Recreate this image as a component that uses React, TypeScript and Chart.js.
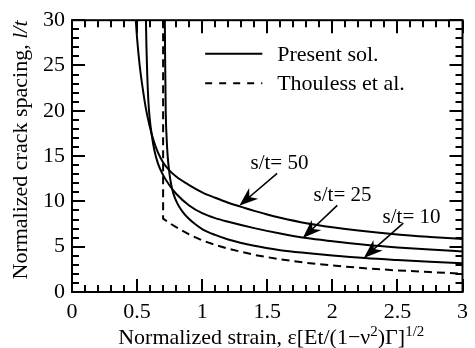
import React, { useEffect, useRef } from 'react';
import { Chart, registerables } from 'chart.js';
Chart.register(...registerables);

// ---- data ----
const xTicks = [0, 0.5, 1, 1.5, 2, 2.5, 3];
const yTicks = [0, 5, 10, 15, 20, 25, 30];

const st50X = [0.49, 0.5, 0.52, 0.543, 0.567, 0.595, 0.625, 0.66, 0.7, 0.75, 0.8, 0.9, 1.0, 1.1, 1.2, 1.3, 1.4, 1.5, 1.6, 1.8, 2.0, 2.2, 2.5, 2.75, 3.0];
const st50Y = [30, 28, 25, 22.5, 20.3, 18.4, 16.8, 15.4, 14.3, 13.4, 12.75, 11.8, 11.0, 10.4, 9.85, 9.4, 8.95, 8.55, 8.2, 7.6, 7.15, 6.78, 6.35, 6.08, 5.85];

const st25X = [0.568, 0.572, 0.578, 0.587, 0.598, 0.613, 0.632, 0.66, 0.7, 0.75, 0.8, 0.9, 1.0, 1.1, 1.2, 1.4, 1.6, 1.8, 2.0, 2.25, 2.5, 2.75, 3.0];
const st25Y = [30, 27, 24, 21, 19, 17.3, 15.7, 14.2, 12.9, 11.75, 10.85, 9.55, 8.7, 8.15, 7.75, 7.05, 6.45, 5.95, 5.6, 5.22, 4.92, 4.68, 4.48];

const st10X = [0.713, 0.716, 0.72, 0.727, 0.735, 0.745, 0.76, 0.78, 0.81, 0.85, 0.9, 0.95, 1.0, 1.1, 1.2, 1.4, 1.6, 1.8, 2.0, 2.25, 2.5, 2.75, 3.0];
const st10Y = [30, 25, 20, 17, 15, 13.5, 12.0, 10.8, 9.75, 8.85, 8.05, 7.45, 6.95, 6.3, 5.8, 5.1, 4.62, 4.3, 4.03, 3.74, 3.52, 3.33, 3.18];

const thoulessX = [0.7, 0.7, 0.75, 0.8, 0.9, 1.0, 1.1, 1.2, 1.4, 1.6, 1.8, 2.0, 2.25, 2.5, 2.75, 3.0];
const thoulessY = [30, 8.1, 7.6, 7.15, 6.35, 5.7, 5.2, 4.78, 4.1, 3.6, 3.22, 2.92, 2.62, 2.38, 2.2, 2.03];

const legendLabels = ['Present sol.', 'Thouless et al.'];
const seriesLabels = ['s/t= 50', 's/t= 25', 's/t= 10'];

// ---- styling / placement (data coordinates) ----
const SERIF = '"Liberation Serif", "Times New Roman", serif';
const annotations = [
  { text: seriesLabels[0], tx: 1.371, ty: 13.59, tail: [1.576, 13.1], tip: [1.285, 9.53] },
  { text: seriesLabels[1], tx: 1.856, ty: 10.0, tail: [2.038, 9.57], tip: [1.773, 5.95] },
  { text: seriesLabels[2], tx: 2.386, ty: 7.61, tail: [2.545, 7.61], tip: [2.242, 3.76] },
];

const toPts = (xs: number[], ys: number[]) => xs.map((x, i) => ({ x, y: ys[i] }));

function drawArrow(ctx: CanvasRenderingContext2D, x1: number, y1: number, x2: number, y2: number) {
  const ang = Math.atan2(y2 - y1, x2 - x1);
  const L = 19, W = 7;
  const dx = Math.cos(ang), dy = Math.sin(ang);
  const px = -dy, py = dx;
  ctx.beginPath();
  ctx.moveTo(x1, y1);
  ctx.lineTo(x2 - dx * L * 0.6, y2 - dy * L * 0.6);
  ctx.lineWidth = 1.6;
  ctx.stroke();
  ctx.beginPath();
  ctx.moveTo(x2, y2);
  ctx.lineTo(x2 - dx * L + px * W, y2 - dy * L + py * W);
  ctx.lineTo(x2 - dx * L * 0.7, y2 - dy * L * 0.7);
  ctx.lineTo(x2 - dx * L - px * W, y2 - dy * L - py * W);
  ctx.closePath();
  ctx.fill();
}

const framePlugin = {
  id: 'frame',
  afterDraw(chart: any) {
    const ctx: CanvasRenderingContext2D = chart.ctx;
    const { left, right, top, bottom } = chart.chartArea;
    const xs = chart.scales.x, ys = chart.scales.y;
    ctx.save();
    ctx.strokeStyle = '#000';
    ctx.fillStyle = '#000';
    // frame
    ctx.lineWidth = 2;
    ctx.strokeRect(left, top, right - left, bottom - top);
    // ticks
    ctx.lineWidth = 2;
    ctx.beginPath();
    for (let i = 0; i <= 30; i++) {
      const v = i / 10;
      const p = Math.round(xs.getPixelForValue(v));
      const len = i % 5 === 0 ? 13 : 7;
      ctx.moveTo(p, bottom); ctx.lineTo(p, bottom - len);
      ctx.moveTo(p, top); ctx.lineTo(p, top + len);
    }
    for (let i = 0; i <= 30; i++) {
      const p = Math.round(ys.getPixelForValue(i));
      const len = i % 5 === 0 ? 13 : 7;
      ctx.moveTo(left, p); ctx.lineTo(left + len, p);
      ctx.moveTo(right, p); ctx.lineTo(right - len, p);
    }
    ctx.stroke();

    // legend
    const lx1 = xs.getPixelForValue(1.023), lx2 = xs.getPixelForValue(1.462);
    const ly1 = ys.getPixelForValue(26.3), ly2 = ys.getPixelForValue(23.04);
    const tx = xs.getPixelForValue(1.576);
    ctx.lineWidth = 2;
    ctx.beginPath(); ctx.moveTo(lx1, ly1); ctx.lineTo(lx2, ly1); ctx.stroke();
    ctx.setLineDash([7, 7]);
    ctx.beginPath(); ctx.moveTo(lx1, ly2); ctx.lineTo(lx2, ly2); ctx.stroke();
    ctx.setLineDash([]);
    ctx.font = '22px ' + SERIF;
    ctx.textAlign = 'left';
    ctx.textBaseline = 'alphabetic';
    ctx.fillText(legendLabels[0], tx, ly1 + 7);
    ctx.fillText(legendLabels[1], tx, ly2 + 7);

    // annotations
    ctx.font = '21px ' + SERIF;
    for (const a of annotations) {
      ctx.fillText(a.text, xs.getPixelForValue(a.tx), ys.getPixelForValue(a.ty));
      drawArrow(ctx,
        xs.getPixelForValue(a.tail[0]), ys.getPixelForValue(a.tail[1]),
        xs.getPixelForValue(a.tip[0]), ys.getPixelForValue(a.tip[1]));
    }

    // x title with superscripts
    const parts = [
      { t: 'Normalized strain, \u03b5[Et/(1\u2212\u03bd', sup: false },
      { t: '2', sup: true },
      { t: ')\u0393]', sup: false },
      { t: '1/2', sup: true },
    ];
    const fMain = '22px ' + SERIF, fSup = '15px ' + SERIF;
    let total = 0;
    const widths = parts.map(p => { ctx.font = p.sup ? fSup : fMain; const w = ctx.measureText(p.t).width; total += w; return w; });
    let cx = (left + right) / 2 + 4 - total / 2;
    const base = 344;
    parts.forEach((p, i) => {
      ctx.font = p.sup ? fSup : fMain;
      ctx.fillText(p.t, cx, p.sup ? base - 8 : base);
      cx += widths[i];
    });

    // y title
    ctx.save();
    ctx.translate(27, 150);
    ctx.rotate(-Math.PI / 2);
    const yp = [
      { t: 'Normalized crack spacing, ', it: false },
      { t: 'l/t', it: true },
    ];
    let ytot = 0;
    const yw = yp.map(p => { ctx.font = (p.it ? 'italic ' : '') + '22px ' + SERIF; const w = ctx.measureText(p.t).width; ytot += w; return w; });
    let yx = -ytot / 2;
    yp.forEach((p, i) => {
      ctx.font = (p.it ? 'italic ' : '') + '22px ' + SERIF;
      ctx.fillText(p.t, yx, 0);
      yx += yw[i];
    });
    ctx.restore();
    ctx.restore();
  },
};

export default function App() {
  const ref = useRef<HTMLCanvasElement>(null);
  useEffect(() => {
    const canvas = ref.current!;
    const solid = (xs: number[], ys: number[], label: string) => ({
      label,
      data: toPts(xs, ys),
      showLine: true,
      borderColor: '#000',
      borderWidth: 2,
      pointRadius: 0,
      cubicInterpolationMode: 'monotone' as const,
    });
    const chart = new Chart(canvas, {
      type: 'scatter',
      data: {
        datasets: [
          solid(st50X, st50Y, seriesLabels[0]),
          solid(st25X, st25Y, seriesLabels[1]),
          solid(st10X, st10Y, seriesLabels[2]),
          {
            label: legendLabels[1],
            data: toPts(thoulessX, thoulessY),
            showLine: true,
            borderColor: '#000',
            borderWidth: 2,
            borderDash: [8, 5],
            pointRadius: 0,
            tension: 0,
          },
        ],
      },
      options: {
        responsive: false,
        animation: false,
        events: [],
        layout: { padding: { top: 16, right: 8, left: 0, bottom: 0 } },
        plugins: { legend: { display: false }, tooltip: { enabled: false }, title: { display: false } },
        scales: {
          x: {
            type: 'linear', min: 0, max: 3,
            afterFit: (s: any) => { s.height = 56; },
            afterBuildTicks: (s: any) => { s.ticks = xTicks.map(v => ({ value: v })); },
            grid: { display: false, drawTicks: false },
            border: { display: false },
            ticks: { color: '#000', font: { family: SERIF, size: 22 }, padding: 7, maxRotation: 0, autoSkip: false, callback: (v: any) => String(v) },
          },
          y: {
            type: 'linear', min: 0, max: 30,
            afterFit: (s: any) => { s.width = 72; },
            afterBuildTicks: (s: any) => { s.ticks = yTicks.map(v => ({ value: v })); },
            grid: { display: false, drawTicks: false },
            border: { display: false },
            ticks: { color: '#000', font: { family: SERIF, size: 22 }, padding: 7, autoSkip: false, callback: (v: any) => String(v) },
          },
        },
      },
      plugins: [framePlugin],
    });
    return () => chart.destroy();
  }, []);
  return (
    <div style={{ position: 'fixed', left: 0, top: 0, width: 475, height: 348, background: '#fff' }}>
      <canvas ref={ref} width={475} height={348} style={{ display: 'block' }} />
    </div>
  );
}
